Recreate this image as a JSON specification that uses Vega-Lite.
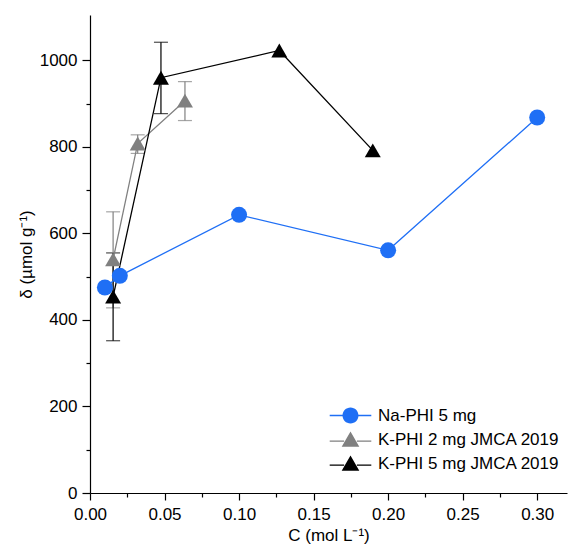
{
  "$schema": "https://vega.github.io/schema/vega-lite/v6.json",
  "width": 477,
  "height": 478,
  "autosize": {"type": "none"},
  "padding": {"left": 90, "top": 15, "right": 2, "bottom": 66},
  "config": {
    "font": "Liberation Sans",
    "view": {"stroke": null},
    "axis": {
      "grid": false,
      "domainColor": "#000000",
      "domainWidth": 1.2,
      "tickColor": "#000000",
      "tickWidth": 1.2,
      "labelColor": "#000000",
      "titleColor": "#000000",
      "labelFontSize": 17,
      "titleFontSize": 17,
      "titleFontWeight": "normal",
      "labelFont": "Liberation Sans",
      "titleFont": "Liberation Sans"
    }
  },
  "data": {
    "values": [
      {"series": "Na-PHI 5 mg", "c": 0.01, "d": 475, "lo": null, "hi": null},
      {"series": "Na-PHI 5 mg", "c": 0.02, "d": 502, "lo": null, "hi": null},
      {"series": "Na-PHI 5 mg", "c": 0.1, "d": 643, "lo": null, "hi": null},
      {"series": "Na-PHI 5 mg", "c": 0.2, "d": 561, "lo": null, "hi": null},
      {"series": "Na-PHI 5 mg", "c": 0.3, "d": 868, "lo": null, "hi": null},
      {"series": "K-PHI 2 mg JMCA 2019", "c": 0.0155, "d": 540, "lo": 428, "hi": 650},
      {"series": "K-PHI 2 mg JMCA 2019", "c": 0.032, "d": 808, "lo": 785, "hi": 828},
      {"series": "K-PHI 2 mg JMCA 2019", "c": 0.0637, "d": 907, "lo": 861, "hi": 951},
      {"series": "K-PHI 5 mg JMCA 2019", "c": 0.0155, "d": 454, "lo": 352, "hi": 555},
      {"series": "K-PHI 5 mg JMCA 2019", "c": 0.0476, "d": 960, "lo": 877, "hi": 1042},
      {"series": "K-PHI 5 mg JMCA 2019", "c": 0.127, "d": 1023, "lo": null, "hi": null},
      {"series": "K-PHI 5 mg JMCA 2019", "c": 0.1897, "d": 792, "lo": null, "hi": null}
    ]
  },
  "encoding": {
    "x": {
      "field": "c",
      "type": "quantitative",
      "scale": {"domain": [0, 0.32], "nice": false, "zero": false},
      "axis": {
        "title": "C (mol L⁻¹)",
        "values": [0, 0.025, 0.05, 0.075, 0.1, 0.125, 0.15, 0.175, 0.2, 0.225, 0.25, 0.275, 0.3],
        "labelExpr": "round(datum.value*1000) % 50 == 0 ? format(datum.value, '.2f') : ''",
        "tickSize": {"condition": {"test": "round(datum.value*1000) % 50 != 0", "value": 4}, "value": 7},
        "labelPadding": 6,
        "titlePadding": 5,
        "labelFlush": false,
        "labelOverlap": false
      }
    },
    "color": {
      "field": "series",
      "type": "nominal",
      "scale": {
        "domain": ["Na-PHI 5 mg", "K-PHI 2 mg JMCA 2019", "K-PHI 5 mg JMCA 2019"],
        "range": ["#1f6ff5", "#808080", "#000000"]
      },
      "legend": {
        "title": null,
        "orient": "none",
        "legendX": 252,
        "legendY": 392,
        "padding": 0,
        "symbolSize": 256,
        "symbolOpacity": 1,
        "symbolStrokeWidth": 0,
        "labelFontSize": 17,
        "labelColor": "#000000",
        "labelOffset": 19,
        "rowPadding": 6,
        "labelLimit": 300
      }
    }
  },
  "layer": [
    {
      "transform": [{"filter": "datum.lo != null"}],
      "mark": {"type": "errorbar", "ticks": {"size": 14}, "thickness": 1.2},
      "encoding": {
        "y": {"field": "lo", "type": "quantitative", "scale": {"domain": [0, 1105], "nice": false}, "axis": {"title": "δ (µmol g⁻¹)"}},
        "y2": {"field": "hi"}
      }
    },
    {
      "mark": {"type": "line", "strokeWidth": 1.3},
      "encoding": {
        "y": {"field": "d", "type": "quantitative", "scale": {"domain": [0, 1105], "nice": false},
          "axis": {
            "title": "δ (µmol g⁻¹)",
            "values": [0, 100, 200, 300, 400, 500, 600, 700, 800, 900, 1000],
            "labelExpr": "datum.value % 200 == 0 ? datum.value : ''",
            "tickSize": {"condition": {"test": "datum.value % 200 != 0", "value": 4}, "value": 8},
            "labelPadding": 5,
            "titlePadding": 4,
            "labelOverlap": false,
            "labelFlush": false
          }
        }
      }
    },
    {
      "transform": [{"filter": "datum.series === 'Na-PHI 5 mg'"}],
      "mark": {"type": "point", "shape": "circle", "filled": true, "opacity": 1, "size": 256},
      "encoding": {
        "y": {"field": "d", "type": "quantitative", "axis": {"title": "δ (µmol g⁻¹)"}}
      }
    },
    {
      "transform": [{"filter": "datum.series !== 'Na-PHI 5 mg'"}],
      "mark": {"type": "point", "shape": "triangle-up", "filled": true, "opacity": 1, "size": 256},
      "encoding": {
        "y": {"field": "d", "type": "quantitative", "axis": {"title": "δ (µmol g⁻¹)"}}
      }
    },
    {
      "transform": [{"filter": "false"}],
      "mark": {"type": "point", "filled": true, "opacity": 1, "size": 256},
      "encoding": {
        "y": {"field": "d", "type": "quantitative", "axis": {"title": "δ (µmol g⁻¹)"}},
        "shape": {
          "field": "series",
          "type": "nominal",
          "scale": {
            "domain": ["Na-PHI 5 mg", "K-PHI 2 mg JMCA 2019", "K-PHI 5 mg JMCA 2019"],
            "range": [
              "M-2.6,-0.09H-0.95V0.09H-2.6Z M0.95,-0.09H2.6V0.09H0.95Z M-1,0A1,1 0 1,1 1,0A1,1 0 1,1 -1,0Z",
              "M-2.6,0.11H-0.8V0.29H-2.6Z M0.8,0.11H2.6V0.29H0.8Z M0,-1L1.1,0.9L-1.1,0.9Z",
              "M-2.6,0.11H-0.8V0.29H-2.6Z M0.8,0.11H2.6V0.29H0.8Z M0,-1L1.1,0.9L-1.1,0.9Z"
            ]
          },
          "legend": {
            "title": null,
            "orient": "none",
            "legendX": 252,
            "legendY": 392,
            "padding": 0,
            "symbolSize": 256,
            "symbolOpacity": 1,
            "symbolStrokeWidth": 0,
            "labelFontSize": 17,
            "labelColor": "#000000",
            "labelOffset": 19,
            "rowPadding": 6,
            "labelLimit": 300
          }
        }
      }
    }
  ]
}
